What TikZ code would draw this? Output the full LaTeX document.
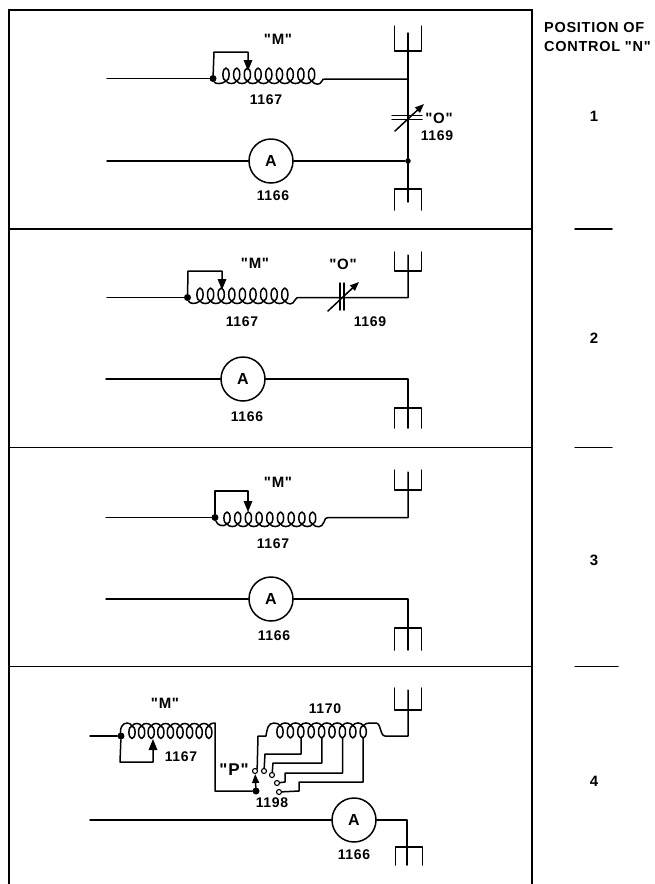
\documentclass[tikz,border=0pt]{standalone}
\usepackage{fontspec}
\setmainfont[LetterSpace=5,Ligatures=TeXOff]{Liberation Sans}
\usetikzlibrary{arrows.meta}
\tikzset{
  wire/.style={line width=1.5pt,line cap=round,line join=round},
  frameline/.style={line width=1.8pt,line cap=butt},
  meter/.style={draw,circle,line width=1.5pt,minimum size=44pt,inner sep=0pt,font=\fontsize{16}{16}\selectfont\bfseries},
  lbl/.style={font=\fontsize{14}{14}\selectfont\bfseries,inner sep=0pt},
  big/.style={font=\fontsize{15}{15}\selectfont\bfseries,inner sep=0pt},
  head/.style={font=\fontsize{14.5}{15}\selectfont\bfseries,inner sep=0pt,anchor=west},
  dotn/.style={circle,fill=black,inner sep=0pt,minimum size=7pt},
  contact/.style={circle,draw,fill=white,line width=1.1pt,inner sep=0pt,minimum size=5pt},
  tip/.style={-{Stealth[length=11pt,width=8.5pt,inset=0pt]}},
  smalltip/.style={-{Stealth[length=9pt,width=7pt,inset=0pt]}}
}
% x0, y of the loop feet, number of loops, pitch, height, direction (1 up, -1 down)
\newcommand{\coilrun}[6]{%
  \pgfmathtruncatemacro{\lastn}{#3-1}%
  \foreach \i in {0,...,\lastn}{%
    \pgfmathsetmacro{\xx}{#1+\i*#4}%
    \pgfmathsetmacro{\yy}{#2-#6*#5/2}%
    \draw[wire] (\xx,\yy) ellipse [x radius=3.1,y radius=#5/2];%
  }%
  \pgfmathtruncatemacro{\lastm}{#3-2}%
  \foreach \i in {0,...,\lastm}{%
    \pgfmathsetmacro{\xa}{#1+\i*#4}%
    \pgfmathsetmacro{\xb}{#1+\i*#4+#4}%
    \pgfmathsetmacro{\ys}{#2+#6*3.4}%
    \draw[wire] (\xa,#2) .. controls (\xa+2,\ys) and (\xb-2,\ys) .. (\xb,#2);%
  }%
}
\newcommand{\forkbar}[3]{% centre x, bar y, free end y
  \draw[wire] (#1-13.5,#3) -- (#1-13.5,#2) -- (#1+13.5,#2) -- (#1+13.5,#3);}
\begin{document}
\begin{tikzpicture}[x=1pt,y=-1pt]
\useasboundingbox (0,0) rectangle (654,884);
% frame
\draw[frameline] (9,884) -- (9,10) -- (532,10) -- (532,884);
\draw[frameline] (9,229) -- (532,229);
\draw[frameline] (9,447.5) -- (532,447.5);
\draw[frameline] (9,666.5) -- (532,666.5);
% right column
\node[head] (t1) at (544,28) {POSITION OF};
\node[head] (t2) at (544,46.5) {CONTROL "N"};
\node[big] (n1) at (594,116) {1};
\node[big] (n2) at (594,338) {2};
\node[big] (n3) at (594,560) {3};
\node[big] (n4) at (594,781) {4};
\draw[wire] (575,229) -- (612,229);
\draw[wire] (575,447.5) -- (612,447.5);
\draw[wire] (575,666.5) -- (618,666.5);

% ---------- panel 1
\node[meter] (a1) at (271,161) {A};
\coordinate (in1a) at (107,161);
\node[dotn,minimum size=5.5pt] (j1) at (408,161) {};
\draw[wire] (in1a) -- (a1);
\draw[wire] (a1) -- (j1);
\node[dotn] (d1) at (213,78.5) {};
\coordinate (in1m) at (107,78.5);
\draw[wire] (in1m) -- (d1);
\draw[wire,tip] (d1) -- (214,52) -- (248,52) -- (248,71);
\coilrun{226}{81}{9}{10.7}{13}{1}
\draw[wire] (d1) .. controls (215,84) and (222,84.5) .. (226,81);
\draw[wire] (311.6,81) .. controls (315,85) and (320,85.5) .. (322,81) .. controls (322.5,79.5) and (323,79) .. (325,79) -- (408,79);
\draw[wire] (408,33) -- (408,202);
\forkbar{408}{51}{26}
\forkbar{408}{189}{210}
\draw[wire] (392,115.5) -- (422,115.5);
\draw[wire] (392,119.5) -- (422,119.5);
\draw[wire,smalltip] (395,131) -- (424,104);
\node[big] (m1) at (278,39) {"M"};
\node[lbl] (c1) at (266,100) {1167};
\node[lbl] (a1t) at (273,196) {1166};
\node[big] (o1) at (439,118) {"O"};
\node[lbl] (o1n) at (437,136) {1169};

% ---------- panel 2
\node[meter] (a2) at (243,379) {A};
\coordinate (in2a) at (106,379);
\coordinate (c2a) at (408,379);
\coordinate (e2a) at (408,428);
\draw[wire] (in2a) -- (a2);
\draw[wire] (a2) -- (c2a) -- (e2a);
\forkbar{408}{408}{428}
\node[dotn] (d2) at (187.5,297.5) {};
\coordinate (in2m) at (107,297.5);
\draw[wire] (in2m) -- (d2);
\draw[wire,tip] (d2) -- (188,271) -- (222,271) -- (222,290);
\coilrun{200}{301}{9}{10.6}{13}{1}
\draw[wire] (d2) .. controls (189.5,304) and (196,304.5) .. (200,301);
\draw[wire] (284.8,301) .. controls (288,305) and (293,305) .. (295,300) .. controls (296,298) and (297,297.5) .. (299,297.5) -- (408,297.5) -- (408,255);
\forkbar{408}{271}{252}
\draw[wire] (340,283) -- (340,310);
\draw[wire] (344,283) -- (344,310);
\draw[wire,smalltip] (328,311) -- (359,282);
\node[big] (m2) at (255,263) {"M"};
\node[big] (o2) at (343,264) {"O"};
\node[lbl] (c2) at (242,322) {1167};
\node[lbl] (o2n) at (370,322) {1169};
\node[lbl] (a2t) at (247,417) {1166};

% ---------- panel 3
\node[meter] (a3) at (271,599) {A};
\coordinate (in3a) at (106,599);
\coordinate (c3a) at (408,599);
\coordinate (e3a) at (408,650);
\draw[wire] (in3a) -- (a3);
\draw[wire] (a3) -- (c3a) -- (e3a);
\forkbar{408}{628}{650}
\node[dotn] (d3) at (215,517.5) {};
\coordinate (in3m) at (106,517.5);
\draw[wire] (in3m) -- (d3);
\draw[wire,tip] (d3) -- (215,491) -- (248,491) -- (248,512);
\coilrun{227}{524}{9}{10.7}{12}{1}
\draw[wire] (d3) .. controls (217,525) and (223,527.5) .. (227,524);
\draw[wire] (312.6,524) .. controls (316,528) and (322,528) .. (324,522) .. controls (324.5,519) and (326,517.5) .. (328,517.5) -- (408,517.5) -- (408,472);
\forkbar{408}{490}{470}
\node[big] (m3) at (278,482) {"M"};
\node[lbl] (c3) at (273,544) {1167};
\node[lbl] (a3t) at (274,636) {1166};

% ---------- panel 4
\node[meter] (a4) at (354,820) {A};
\coordinate (in4a) at (90,820);
\coordinate (c4a) at (407,820);
\coordinate (e4a) at (407,865);
\draw[wire] (in4a) -- (a4);
\draw[wire] (a4) -- (c4a) -- (e4a);
\forkbar{409}{847}{865}
\node[dotn] (d4) at (121,736) {};
\coordinate (in4m) at (90,736);
\draw[wire] (in4m) -- (d4);
\draw[wire,tip] (d4) -- (120,762) -- (153,762) -- (153,739);
\coilrun{132}{726}{9}{9.6}{12.5}{-1}
\draw[wire] (d4) .. controls (120,729) and (122,723) .. (127,723) .. controls (129,723) and (131,724) .. (132,726);
\node[dotn] (s4) at (256,791) {};
\draw[wire] (208.8,726) .. controls (210,723.5) and (212,723) .. (215,723) -- (215,791) -- (s4);
\node[contact] (k1) at (255,771) {};
\node[contact] (k2) at (264,771) {};
\node[contact] (k3) at (272,775) {};
\node[contact] (k4) at (277,783) {};
\node[contact] (k5) at (279,792) {};
\draw[wire,smalltip] (s4) -- (k1);
\coilrun{280}{725.5}{9}{10.4}{12.5}{-1}
\draw[wire] (k1.north east) -- (258,736) -- (266,736) .. controls (267,729) and (268,723) .. (274,723) .. controls (277,723) and (279,724) .. (280,725.5);
\draw[wire] (363.2,725.5) .. controls (365,723) and (367,723) .. (376,723) .. controls (381,723) and (380,736) .. (385,736) -- (408,736) -- (408,690);
\forkbar{408}{710}{688}
\draw[wire] (301,738) -- (301,754) -- (265,754) -- (k2);
\draw[wire] (321.8,738) -- (321.8,763) -- (273,763) -- (k3);
\draw[wire] (342.6,738) -- (342.6,773) -- (285,773) -- (285,782) -- (k4);
\draw[wire] (363.2,738) -- (363.2,782) -- (299,782) -- (299,791) -- (k5);
\node[big] (m4) at (165,703) {"M"};
\node[lbl] (c4) at (181,757) {1167};
\node[big,font=\fontsize{17}{17}\selectfont\bfseries] (p4) at (234,770) {"P"};
\node[lbl] (s4t) at (272,803) {1198};
\node[lbl] (c5) at (325,709) {1170};
\node[lbl] (a4t) at (354,855) {1166};
\end{tikzpicture}
\end{document}
